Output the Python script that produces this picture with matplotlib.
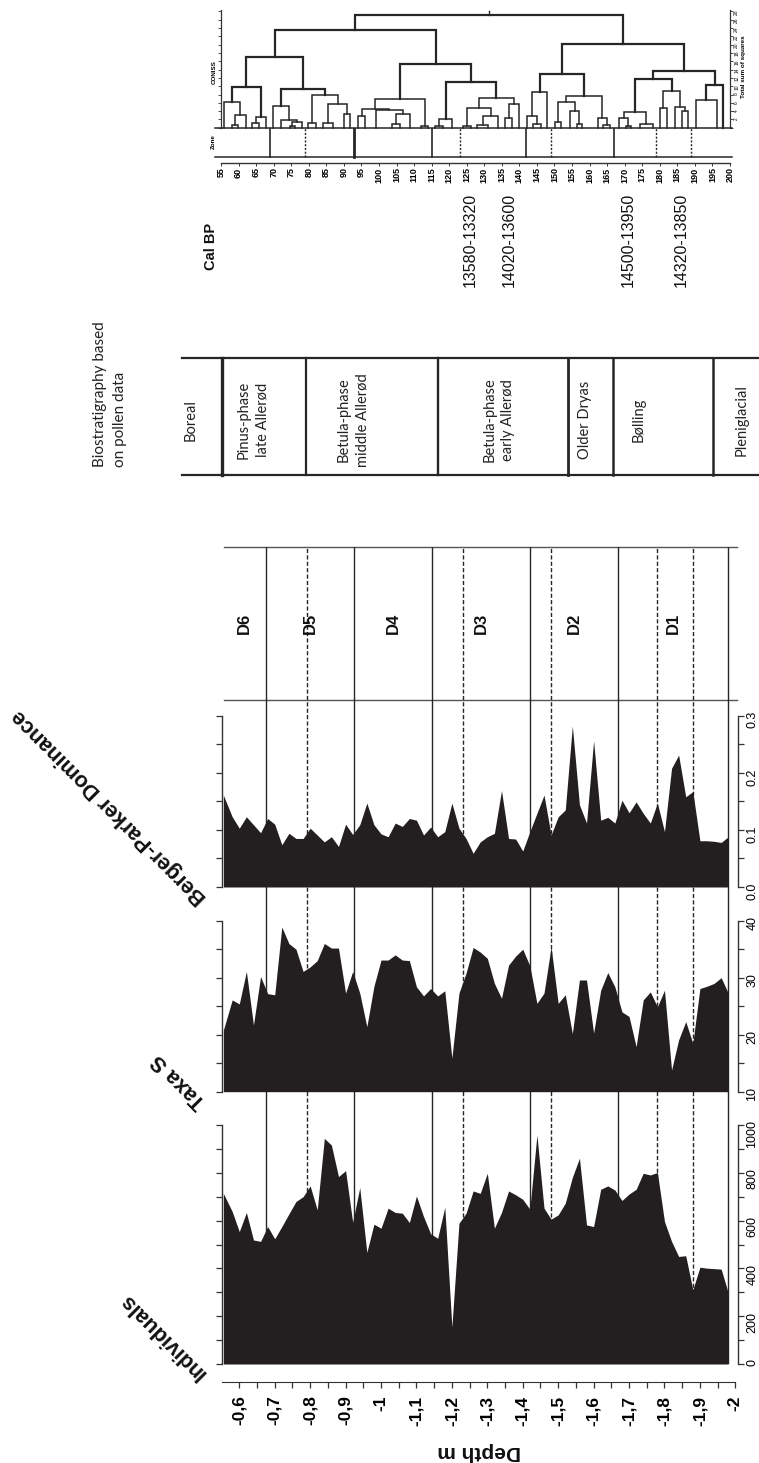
import matplotlib
matplotlib.use("Agg")
import matplotlib.pyplot as plt
from matplotlib.transforms import blended_transform_factory

plt.rcParams['font.family'] = ['Liberation Sans', 'DejaVu Sans']

# ---------------- data ----------------
depth = [-0.555, -0.58, -0.60, -0.62, -0.64, -0.66, -0.68, -0.70, -0.72, -0.74,
         -0.76, -0.78, -0.80, -0.82, -0.84, -0.86, -0.88, -0.90, -0.92, -0.94,
         -0.96, -0.98, -1.00, -1.02, -1.04, -1.06, -1.08, -1.10, -1.12, -1.14,
         -1.16, -1.18, -1.20, -1.22, -1.24, -1.26, -1.28, -1.30, -1.32, -1.34,
         -1.36, -1.38, -1.40, -1.42, -1.44, -1.46, -1.48, -1.50, -1.52, -1.54,
         -1.56, -1.58, -1.60, -1.62, -1.64, -1.66, -1.68, -1.70, -1.72, -1.74,
         -1.76, -1.78, -1.80, -1.82, -1.84, -1.86, -1.88, -1.90, -1.92, -1.94,
         -1.96, -1.98]

individuals = [714, 638, 554, 634, 519, 513, 575, 524, 575, 628,
               680, 700, 745, 645, 944, 916, 784, 809, 593, 738,
               467, 585, 568, 652, 634, 631, 592, 703, 617, 545,
               526, 656, 155, 589, 631, 724, 714, 798, 568, 634,
               724, 708, 689, 648, 958, 652, 606, 624, 673, 781,
               861, 582, 575, 731, 745, 728, 684, 711, 731, 798,
               791, 801, 596, 513, 450, 453, 311, 405, 401, 399,
               397, 297]

taxa_s = [20.8, 26.1, 25.4, 31.1, 21.7, 30.2, 27.2, 27.0, 38.9, 36.0,
          35.0, 31.1, 31.9, 33.0, 36.0, 35.2, 35.2, 27.3, 31.1, 27.3,
          21.4, 28.5, 33.1, 33.1, 34.0, 33.1, 33.0, 28.4, 26.8, 28.1,
          26.8, 27.7, 15.9, 27.3, 30.8, 35.3, 34.5, 33.4, 29.0, 26.4,
          32.2, 33.8, 35.0, 32.1, 25.5, 27.3, 35.4, 25.5, 27.0, 20.2,
          29.6, 29.6, 20.3, 27.8, 30.9, 28.4, 24.0, 23.2, 17.9, 26.1,
          27.5, 24.9, 27.8, 13.8, 19.1, 22.3, 18.5, 28.1, 28.5, 29.0,
          30.0, 27.3]

berger_parker = [0.161, 0.123, 0.103, 0.123, 0.109, 0.095, 0.120, 0.110, 0.074, 0.094,
                 0.085, 0.085, 0.103, 0.091, 0.079, 0.088, 0.071, 0.110, 0.092, 0.109,
                 0.147, 0.109, 0.093, 0.088, 0.112, 0.106, 0.120, 0.117, 0.091, 0.105,
                 0.088, 0.097, 0.147, 0.103, 0.085, 0.059, 0.079, 0.088, 0.094, 0.169,
                 0.085, 0.084, 0.063, 0.097, 0.129, 0.161, 0.091, 0.123, 0.135, 0.282,
                 0.144, 0.112, 0.256, 0.117, 0.122, 0.112, 0.152, 0.130, 0.149, 0.129,
                 0.112, 0.147, 0.097, 0.208, 0.231, 0.158, 0.167, 0.081, 0.081, 0.080,
                 0.078, 0.088]

# diatom zones (solid boundaries) and sub-zones (dashed)
zone_top = -0.555
zone_bounds = [-0.675, -0.925, -1.145, -1.42, -1.67, -1.98]
zone_names = ['D6', 'D5', 'D4', 'D3', 'D2', 'D1']
subzone_bounds = [-0.79, -1.23, -1.48, -1.78, -1.88]

depth_ticks = [-0.6, -0.7, -0.8, -0.9, -1.0, -1.1, -1.2, -1.3, -1.4, -1.5,
               -1.6, -1.7, -1.8, -1.9, -2.0]
depth_tick_labels = ['-0,6', '-0,7', '-0,8', '-0,9', '-1', '-1,1', '-1,2', '-1,3',
                     '-1,4', '-1,5', '-1,6', '-1,7', '-1,8', '-1,9', '-2']
depth_minor = [-0.65, -0.75, -0.85, -0.95, -1.05, -1.15, -1.25, -1.35, -1.45,
               -1.55, -1.65, -1.75, -1.85, -1.95]

bp_ticks = [0.0, 0.05, 0.1, 0.15, 0.2, 0.25, 0.3]
bp_tick_labels = ['0.0', '', '0.1', '', '0.2', '', '0.3']
taxa_ticks = [10, 15, 20, 25, 30, 35, 40]
taxa_tick_labels = ['10', '', '20', '', '30', '', '40']
ind_ticks = [0, 100, 200, 300, 400, 500, 600, 700, 800, 900, 1000]
ind_tick_labels = ['0', '', '200', '', '400', '', '600', '', '800', '', '1000']

# pollen biostratigraphy table
pollen_zones = ['Boreal', 'Pinus-phase\nlate Allerød', 'Betula-phase\nmiddle Allerød',
                'Betula-phase\nearly Allerød', 'Older Dryas', 'Bølling', 'Pleniglacial']

# radiocarbon ages (depth in cm)
cal_depth_cm = [126, 137, 171, 186]
cal_labels = ['13580-13320', '14020-13600', '14500-13950', '14320-13850']

# CONISS dendrogram: [height, left, right], leaves are depths in cm
coniss_tree = [27.2,
    [23.5,
        [17.0,
            [9.8,
                [6.3, 55.9, [3.1, [0.6, 58.0, 59.9], 62.0]],
                [2.6, [1.2, 63.9, 65.8], 67.8]],
            [9.3,
                [5.2, 69.9, [1.8, 72.0, [1.4, [0.4, 74.6, 76.1], 78.0]]],
                [8.0, [1.2, 79.9, 82.0], [5.8, [1.1, 84.0, 87.0], [3.2, 90.1, 91.8]]]]],
        [15.4,
            [7.0,
                [4.6, [2.8, 94.1, 96.0], [4.2, 99.1, [3.2, [1.0, 103.8, 106.0], 108.8]]],
                [0.3, 112.0, 114.1]],
            [10.9,
                [2.0, [0.5, 116.0, 118.3], 120.8],
                [7.2,
                    [4.8, [0.4, 124.0, 126.1], [2.8, [0.6, 128.0, 131.2], 134.0]],
                    [5.6, [2.3, 135.9, 138.0], 140.0]]]]],
    [20.2,
        [12.9,
            [8.7, [2.8, 142.1, [1.0, 144.0, 146.1]], 148.0],
            [7.6,
                [6.2, [1.4, 150.2, 151.9], [4.0, 154.4, [0.8, 156.4, 157.8]]],
                [2.4, 162.3, [0.6, 163.9, 165.8]]]],
        [13.7,
            [11.7,
                [3.8, [2.3, 168.4, [0.5, 170.4, 171.7]], [0.8, 174.4, 178.0]],
                [8.8, [4.8, 180.1, 182.0], [5.0, 184.3, [4.0, 186.2, 188.1]]]],
            [10.3, [6.6, 190.2, 196.2], 198.1]]]]

coniss_zone_solid = [69, 93, 115, 142, 167]
coniss_zone_dotted = [79, 123, 149, 179, 189]
coniss_depth_ticks = list(range(55, 201, 5))
tss_ticks = list(range(0, 29, 2))

# ---------------- layout helpers ----------------
W, H = 759, 1463
INK = '#231f20'
LINE = '#262626'


def frect(x0, y0, x1, y1):
    return [x0 / W, 1 - y1 / H, (x1 - x0) / W, (y1 - y0) / H]


fig = plt.figure(figsize=(W / 100, H / 100), dpi=100)
fig.patch.set_facecolor('white')

# pixel-space canvas for frames and labels
ax_bg = fig.add_axes([0, 0, 1, 1], zorder=0)
ax_bg.set_xlim(0, W)
ax_bg.set_ylim(H, 0)
ax_bg.axis('off')
ax_bg.patch.set_alpha(0)

XL = (-0.5512, -2.0061)

# zone lines running through all panels
ax_z = fig.add_axes(frect(222, 547, 737.5, 1364), zorder=1)
ax_z.set_xlim(*XL)
ax_z.set_ylim(0, 1)
ax_z.axis('off')
ax_z.patch.set_alpha(0)
for b in zone_bounds:
    ax_z.axvline(b, color=LINE, lw=1.0)
for b in subzone_bounds:
    ax_z.axvline(b, color=LINE, lw=1.0, ls=(0, (3, 1.6)))
edges = [zone_top] + zone_bounds
for i, name in enumerate(zone_names):
    ax_z.text((edges[i] + edges[i + 1]) / 2, 0.907, name, rotation=90,
              ha='center', va='center', fontsize=12, fontweight='bold', color='#111')
ax_bg.plot([224, 737], [547, 547], color='#555', lw=1.0)
ax_bg.plot([224, 737], [699.5, 699.5], color='#555', lw=1.0)


def panel(y0, y1, values, base, top, ticks, labels):
    ax = fig.add_axes(frect(222, y0, 737.5, y1), zorder=2)
    ax.patch.set_alpha(0)
    ax.fill_between(depth, values, base, color=INK, lw=0)
    ax.set_xlim(*XL)
    ax.set_ylim(base, top)
    for s in ('top', 'bottom'):
        ax.spines[s].set_visible(False)
    for s in ('left', 'right'):
        ax.spines[s].set_color('#333')
        ax.spines[s].set_linewidth(1.0)
    ax.set_yticks(ticks, labels)
    ax.yaxis.set_ticks_position('both')
    ax.tick_params(axis='y', direction='out', length=4, width=0.9, color='#333',
                   labelleft=False, labelright=True, labelsize=9, pad=2.5,
                   labelrotation=90)
    ax.set_xticks([])
    return ax


ax_bp = panel(715.7, 887, berger_parker, 0.0, 0.3, bp_ticks, bp_tick_labels)
ax_tx = panel(920.7, 1091.7, taxa_s, 10, 40, taxa_ticks, taxa_tick_labels)
ax_in = panel(1125, 1364, individuals, 0, 1000, ind_ticks, ind_tick_labels)

# depth axis below the lowest panel
ax_in.spines['bottom'].set_visible(True)
ax_in.spines['bottom'].set_position(('outward', 12.7))
ax_in.spines['bottom'].set_bounds(XL[0], -2.0)
ax_in.spines['bottom'].set_color('#333')
ax_in.set_xticks(depth_ticks, depth_tick_labels, fontweight='bold')
ax_in.set_xticks(depth_minor, minor=True)
ax_in.tick_params(axis='x', which='both', direction='out', length=4, width=0.9,
                  color='#333', labelsize=12.5, labelrotation=90, pad=6)

# panel titles
for txt, (x, y) in [('Individuals', (203, 1376)), ('Taxa S', (203, 1105)),
                    ('Berger-Parker Dominance', (204, 900))]:
    ax_bg.text(x, y, txt, rotation=135, rotation_mode='anchor', ha='left', va='center',
               fontsize=15.5, fontweight='bold', color='#111')
ax_bg.text(479, 1452, 'Depth m', rotation=180, ha='center', va='center',
           fontsize=15, fontweight='bold', color='#111')

# pollen biostratigraphy table
ax_bg.text(110, 467, 'Biostratigraphy based\non pollen data', rotation=90,
           ha='center', va='bottom', multialignment='left', family='Lato',
           fontsize=11, linespacing=1.6, color='#222')
ax_bg.plot([182, W], [358, 358], color=LINE, lw=1.6)
ax_bg.plot([182, W], [475, 475], color=LINE, lw=1.6)
for x, lw in [(221.7, 2.4), (306, 1.6), (438.3, 1.7), (568.3, 2.0), (613.3, 1.8), (713.3, 1.8)]:
    ax_bg.plot([x, x], [358, 475], color=LINE, lw=lw)
cell_x = [191, 253.5, 353.5, 499, 585.5, 638.5, 742]
for x, name in zip(cell_x, pollen_zones):
    ax_bg.text(x, 420, name, rotation=90, ha='center', va='center',
               multialignment='center', family='Lato', fontsize=10.5,
               linespacing=1.45, color='#222')

# CONISS dendrogram
ax_d = fig.add_axes(frect(221, 10, 730, 127.7), zorder=2)
ax_d.patch.set_alpha(0)
ax_d.set_xlim(55, 200)
ax_d.set_ylim(0, (127.7 - 10) / 4.15)
for s in ('top', 'bottom'):
    ax_d.spines[s].set_visible(False)
for s in ('left', 'right'):
    ax_d.spines[s].set_linewidth(0.9)
    ax_d.spines[s].set_color('#333')
ax_d.set_xticks([])
ax_d.set_yticks(tss_ticks, [''] + [str(t) for t in tss_ticks[1:]])
ax_d.yaxis.set_ticks_position('both')
ax_d.tick_params(axis='y', direction='out', length=2, width=0.6, color='#333',
                 labelleft=False, labelright=True, labelsize=3.5, pad=1,
                 labelrotation=90)


def draw_node(node):
    if not isinstance(node, list):
        return node, 0.0
    h, left, right = node
    xl, hl = draw_node(left)
    xr, hr = draw_node(right)
    lw = 1.6 if h > 9 else 1.1
    ax_d.plot([xl, xl, xr, xr], [hl, h, h, hr], color=LINE, lw=lw,
              solid_joinstyle='miter', clip_on=False)
    return (xl + xr) / 2, h


xr_root, h_root = draw_node(coniss_tree)
ax_d.plot([xr_root, xr_root], [h_root, h_root + 0.8], color=LINE, lw=1.0, clip_on=False)

# zone strip and depth ruler under the dendrogram
ax_r = fig.add_axes(frect(221, 128.3, 730, 163.3), zorder=2)
ax_r.patch.set_alpha(0)
ax_r.set_xlim(55, 200)
ax_r.set_ylim(0, 1)
for s in ('top', 'left', 'right'):
    ax_r.spines[s].set_visible(False)
ax_r.spines['bottom'].set_linewidth(1.0)
ax_r.spines['bottom'].set_color('#333')
ax_r.set_xticks(coniss_depth_ticks, [str(t) for t in coniss_depth_ticks], fontweight='bold')
ax_r.set_yticks([])
ax_r.tick_params(axis='x', direction='out', length=2, width=0.7, color='#333',
                 labelsize=6.5, labelrotation=90, pad=1)
ybox = (163.3 - 156.7) / 35.0
for yy in (1.0, ybox):
    ax_r.plot([53.3, 200.5], [yy, yy], color=LINE, lw=1.1, clip_on=False)
for d in coniss_zone_solid:
    ax_r.plot([d, d], [ybox, 1.0], color=LINE, lw=2.0 if d == 93 else 1.2)
for d in coniss_zone_dotted:
    ax_r.plot([d, d], [ybox, 1.0], color=LINE, lw=1.0, ls=(0, (1.5, 1.2)))

ax_bg.text(213, 142, 'Zone', rotation=90, ha='center', va='center', fontsize=4.5,
           fontweight='bold')
ax_bg.text(214, 72, 'CONISS', rotation=90, ha='center', va='center', fontsize=4.5,
           fontweight='bold')
ax_bg.text(744, 67, 'Total sum of squares', rotation=90, ha='center', va='center',
           fontsize=4.5, fontweight='bold')

# calibrated ages
ax_bg.text(211, 246, 'Cal BP', rotation=90, ha='center', va='center', fontsize=10.5,
           fontweight='bold', color='#111')
tr = blended_transform_factory(ax_d.transData, ax_bg.transData)
for d, lab in zip(cal_depth_cm, cal_labels):
    ax_bg.text(d, 240, lab, transform=tr, rotation=90, ha='center', va='center',
               fontsize=11.5, color='#111')

fig.savefig('out.png', dpi=100)
